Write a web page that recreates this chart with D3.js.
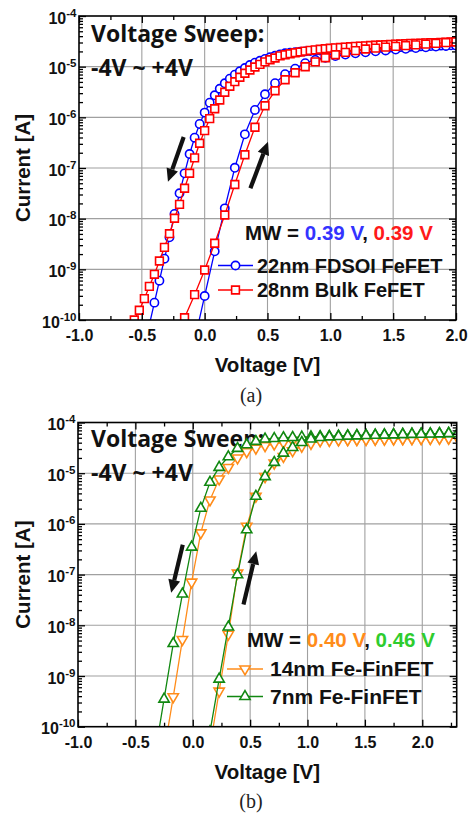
<!DOCTYPE html>
<html>
<head>
<meta charset="utf-8">
<script src="https://cdn.jsdelivr.net/npm/d3@7"></script>
<style>
  body { margin: 0; background: #fff; }
  svg { display: block; }
</style>
</head>
<body>
<svg id="fig" width="468" height="818"></svg>
<script>
// ---------- Panel (a): planar FeFETs, Id-Vg hysteresis ----------
const xTicksA = [-1.0, -0.5, 0.0, 0.5, 1.0, 1.5, 2.0];
const xMinorA = [-0.75, -0.25, 0.25, 0.75, 1.25, 1.75];

// 22nm FDSOI FeFET, sweep from +V down (left branch)
const fdsoiRevV = [-0.44,-0.40,-0.36,-0.32,-0.28,-0.24,-0.20,-0.16,-0.12,-0.08,-0.04,0.00,0.04,0.08,0.12,0.16,0.20,0.24,0.28,0.32,0.36,0.40,0.44,0.48,0.52,0.56,0.60,0.64,0.68,0.72,0.76,0.80,0.84,0.88,0.92,0.96,1.00,1.04,1.08,1.12,1.16,1.20,1.24,1.28,1.32,1.36,1.40,1.44,1.48,1.52,1.56,1.60,1.64,1.68,1.72,1.76,1.80,1.84,1.88,1.92,1.96,2.00];
const fdsoiRevI = [8.1e-11,2.20e-10,5.97e-10,1.62e-9,4.29e-9,1.24e-8,3.17e-8,7.85e-8,1.89e-7,3.96e-7,7.40e-7,1.24e-6,1.95e-6,2.72e-6,3.67e-6,4.70e-6,5.79e-6,6.95e-6,8.11e-6,9.42e-6,1.08e-5,1.20e-5,1.31e-5,1.42e-5,1.53e-5,1.64e-5,1.75e-5,1.84e-5,1.88e-5,1.93e-5,1.97e-5,2.00e-5,2.03e-5,2.06e-5,2.08e-5,2.11e-5,2.13e-5,2.16e-5,2.18e-5,2.20e-5,2.22e-5,2.25e-5,2.27e-5,2.29e-5,2.31e-5,2.33e-5,2.35e-5,2.37e-5,2.39e-5,2.41e-5,2.43e-5,2.45e-5,2.47e-5,2.49e-5,2.51e-5,2.53e-5,2.55e-5,2.57e-5,2.60e-5,2.62e-5,2.64e-5,2.66e-5];
// 22nm FDSOI FeFET, sweep from -V up (right branch)
const fdsoiFwdV = [-0.08,0.00,0.08,0.16,0.24,0.32,0.40,0.48,0.56,0.64,0.72,0.80,0.88,0.96,1.04,1.12,1.20,1.28,1.36,1.44,1.52,1.60,1.68,1.76,1.84,1.92,2.00];
const fdsoiFwdI = [4.0e-11,2.98e-10,2.27e-9,1.60e-8,1.01e-7,4.62e-7,1.40e-6,2.85e-6,4.72e-6,7.10e-6,9.12e-6,1.17e-5,1.36e-5,1.50e-5,1.62e-5,1.73e-5,1.83e-5,1.92e-5,2.01e-5,2.09e-5,2.17e-5,2.25e-5,2.33e-5,2.41e-5,2.49e-5,2.56e-5,2.62e-5];

// 28nm Bulk FeFET
const bulkRevV = [-0.60,-0.56,-0.52,-0.48,-0.44,-0.40,-0.36,-0.32,-0.28,-0.24,-0.20,-0.16,-0.12,-0.08,-0.04,0.00,0.04,0.08,0.12,0.16,0.20,0.24,0.28,0.32,0.36,0.40,0.44,0.48,0.52,0.56,0.60,0.64,0.68,0.72,0.76,0.80,0.84,0.88,0.92,0.96,1.00,1.04,1.08,1.12,1.16,1.20,1.24,1.28,1.32,1.36,1.40,1.44,1.48,1.52,1.56,1.60,1.64,1.68,1.72,1.76,1.80,1.84,1.88,1.92,1.96,2.00];
const bulkRevI = [6.3e-11,1.0e-10,1.56e-10,2.64e-10,4.62e-10,7.98e-10,1.46e-9,2.72e-9,5.05e-9,1.02e-8,1.92e-8,3.98e-8,7.87e-8,1.58e-7,3.08e-7,5.45e-7,9.40e-7,1.48e-6,2.20e-6,3.12e-6,4.10e-6,5.05e-6,6.17e-6,7.40e-6,8.59e-6,9.84e-6,1.11e-5,1.24e-5,1.37e-5,1.48e-5,1.63e-5,1.72e-5,1.80e-5,1.88e-5,1.95e-5,2.02e-5,2.09e-5,2.15e-5,2.21e-5,2.26e-5,2.31e-5,2.35e-5,2.39e-5,2.43e-5,2.47e-5,2.51e-5,2.55e-5,2.58e-5,2.62e-5,2.65e-5,2.68e-5,2.71e-5,2.74e-5,2.77e-5,2.80e-5,2.83e-5,2.86e-5,2.88e-5,2.91e-5,2.94e-5,2.96e-5,2.99e-5,3.02e-5,3.05e-5,3.08e-5,3.11e-5];
const bulkFwdV = [-0.24,-0.16,-0.08,0.00,0.08,0.16,0.24,0.32,0.40,0.48,0.56,0.64,0.72,0.80,0.88,0.96,1.04,1.12,1.20,1.28,1.36,1.44,1.52,1.60,1.68,1.76,1.84,1.92,2.00];
const bulkFwdI = [4.0e-11,1.11e-10,3.16e-10,9.70e-10,3.27e-9,1.18e-8,4.72e-8,1.83e-7,6.38e-7,1.69e-6,3.34e-6,5.51e-6,7.60e-6,9.98e-6,1.24e-5,1.50e-5,1.72e-5,1.92e-5,2.07e-5,2.23e-5,2.33e-5,2.43e-5,2.51e-5,2.60e-5,2.69e-5,2.79e-5,2.88e-5,2.99e-5,3.09e-5];

// ---------- Panel (b): Fe-FinFETs ----------
const xTicksB = [-1.0, -0.5, 0.0, 0.5, 1.0, 1.5, 2.0];
const xMinorB = [-0.75, -0.25, 0.25, 0.75, 1.25, 1.75, 2.25];

const fin14RevV = [-0.25,-0.17,-0.09,-0.01,0.07,0.15,0.23,0.31,0.39,0.47,0.55,0.63,0.71,0.79,0.87,0.95,1.03,1.11,1.19,1.27,1.35,1.43,1.51,1.59,1.67,1.75,1.83,1.91,1.99,2.07,2.15,2.23,2.31];
const fin14RevI = [3.2e-11,3.89e-10,5.24e-9,7.11e-8,6.67e-7,2.97e-6,7.69e-6,1.30e-5,2.00e-5,2.65e-5,3.13e-5,3.48e-5,3.76e-5,4.05e-5,4.37e-5,4.42e-5,4.46e-5,4.50e-5,4.54e-5,4.58e-5,4.61e-5,4.64e-5,4.67e-5,4.70e-5,4.73e-5,4.76e-5,4.79e-5,4.82e-5,4.85e-5,4.88e-5,4.91e-5,4.94e-5,4.97e-5];
const fin14FwdV = [0.15,0.23,0.31,0.39,0.47,0.55,0.63,0.71,0.79,0.87,0.95,1.03,1.11,1.19,1.27,1.35,1.43,1.51,1.59,1.67,1.75,1.83,1.91,1.99,2.07,2.15,2.23,2.31];
const fin14FwdI = [4.0e-11,5.04e-10,6.65e-9,1.07e-7,9.00e-7,3.50e-6,8.55e-6,1.58e-5,2.14e-5,2.77e-5,3.39e-5,3.86e-5,4.37e-5,4.45e-5,4.52e-5,4.57e-5,4.61e-5,4.65e-5,4.68e-5,4.71e-5,4.74e-5,4.77e-5,4.80e-5,4.83e-5,4.86e-5,4.89e-5,4.92e-5,4.95e-5];

const fin7RevV = [-0.33,-0.25,-0.17,-0.09,-0.01,0.07,0.15,0.23,0.31,0.39,0.47,0.55,0.63,0.71,0.79,0.87,0.95,1.03,1.11,1.19,1.27,1.35,1.43,1.51,1.59,1.67,1.75,1.83,1.91,1.99,2.07,2.15,2.23,2.31];
const fin7RevI = [2.8e-11,3.50e-10,4.37e-9,4.14e-8,3.48e-7,2.03e-6,6.61e-6,1.30e-5,2.11e-5,3.08e-5,3.64e-5,4.23e-5,4.71e-5,4.84e-5,5.01e-5,5.07e-5,5.14e-5,5.21e-5,5.28e-5,5.35e-5,5.42e-5,5.49e-5,5.55e-5,5.61e-5,5.67e-5,5.73e-5,5.79e-5,5.85e-5,5.90e-5,5.95e-5,6.00e-5,6.05e-5,6.10e-5,6.15e-5];
const fin7FwdV = [0.15,0.23,0.31,0.39,0.47,0.55,0.63,0.71,0.79,0.87,0.95,1.03,1.11,1.19,1.27,1.35,1.43,1.51,1.59,1.67,1.75,1.83,1.91,1.99,2.07,2.15,2.23,2.31];
const fin7FwdI = [7.9e-11,8.67e-10,9.27e-9,9.93e-8,7.64e-7,3.50e-6,8.55e-6,1.63e-5,2.49e-5,3.22e-5,4.04e-5,4.71e-5,5.07e-5,5.20e-5,5.30e-5,5.38e-5,5.45e-5,5.52e-5,5.58e-5,5.64e-5,5.70e-5,5.76e-5,5.82e-5,5.87e-5,5.92e-5,5.97e-5,6.02e-5,6.07e-5];

// Shared log current axis
const yDecades = [1e-10, 1e-9, 1e-8, 1e-7, 1e-6, 1e-5, 1e-4];
const yExponents = ['-10', '-9', '-8', '-7', '-6', '-5', '-4'];

// Sweep direction arrows: [V, I] tail -> head
const arrowsA = [[[-0.167, 4.09e-7], [-0.292, 5.37e-8]], [[0.364, 3.98e-8], [0.504, 3.31e-7]]];
const arrowsB = [[[-0.087, 3.89e-7], [-0.188, 4.37e-8]], [[0.442, 2.57e-8], [0.553, 2.88e-7]]];

// ---------- drawing ----------
const svg = d3.select('#fig');
const ARIAL = "'Liberation Sans', Arial, sans-serif";
const SWEEP_FONT = "'Open Sans', Lato, sans-serif";

function markerPath(kind) {
  if (kind === 'circle') return d3.symbol(d3.symbolCircle, 54)();
  if (kind === 'square') return d3.symbol(d3.symbolSquare, 60)();
  return d3.symbol(d3.symbolTriangle, 46)();
}

function drawPanel(cfg, idx) {
  const { x0, x1, y0, y1 } = cfg.box;
  const x = d3.scaleLinear().domain(cfg.xDomain).range([x0, x1]);
  const y = d3.scaleLog().domain([1e-10, 1e-4]).range([y1, y0]);
  const g = svg.append('g');

  const clipId = 'clip' + idx;
  g.append('clipPath').attr('id', clipId)
    .append('rect').attr('x', x0).attr('y', y0).attr('width', x1 - x0).attr('height', y1 - y0);

  // grid
  const grid = g.append('g').attr('stroke', '#a0a0a0').attr('stroke-width', 1.1);
  cfg.xTicks.filter(v => v > cfg.xDomain[0] && v < cfg.xDomain[1]).forEach(v => {
    grid.append('line').attr('x1', x(v)).attr('x2', x(v)).attr('y1', y0).attr('y2', y1);
  });
  yDecades.slice(1, -1).forEach(v => {
    grid.append('line').attr('x1', x0).attr('x2', x1).attr('y1', y(v)).attr('y2', y(v));
  });

  // annotation text
  g.append('text').attr('x', cfg.sweepPos[0]).attr('y', cfg.sweepPos[1])
    .attr('font-family', SWEEP_FONT).attr('font-weight', 700).attr('font-size', 23)
    .attr('fill', '#111').text('Voltage Sweep:');
  g.append('text').attr('x', cfg.sweepPos[0]).attr('y', cfg.sweepPos[1] + 33.5)
    .attr('font-family', SWEEP_FONT).attr('font-weight', 700).attr('font-size', 23)
    .attr('fill', '#111').text('-4V ~ +4V');

  // curves
  const plot = g.append('g').attr('clip-path', `url(#${clipId})`);
  const line = d3.line().x(d => x(d[0])).y(d => y(d[1]));
  cfg.series.forEach(s => {
    [[s.revV, s.revI], [s.fwdV, s.fwdI]].forEach(([vs, is]) => {
      const pts = vs.map((v, i) => [v, is[i]]);
      plot.append('path').datum(pts).attr('d', line)
        .attr('fill', 'none').attr('stroke', s.color).attr('stroke-width', 1.3);
      plot.append('g').selectAll('path').data(pts).join('path')
        .attr('d', markerPath(s.marker))
        .attr('transform', d => `translate(${x(d[0])},${y(d[1])})${s.flip ? ' rotate(180)' : ''}`)
        .attr('fill', '#fff').attr('stroke', s.color).attr('stroke-width', 1.6);
    });
  });

  // arrows
  cfg.arrows.forEach(([a, b]) => {
    const ax = x(a[0]), ay = y(a[1]), bx = x(b[0]), by = y(b[1]);
    const ang = Math.atan2(by - ay, bx - ax);
    const hl = 13, hw = 6;
    const sx = bx - hl * Math.cos(ang), sy = by - hl * Math.sin(ang);
    g.append('line').attr('x1', ax).attr('y1', ay).attr('x2', sx).attr('y2', sy)
      .attr('stroke', '#111').attr('stroke-width', 4.2);
    const px = -Math.sin(ang), py = Math.cos(ang);
    g.append('path')
      .attr('d', `M${bx},${by}L${sx + hw * px},${sy + hw * py}L${sx - hw * px},${sy - hw * py}Z`)
      .attr('fill', '#111');
  });

  // axes: inward ticks on all four sides
  const styleAxis = sel => {
    sel.select('.domain').remove();
    sel.selectAll('line').attr('stroke', '#000').attr('stroke-width', 1.3);
  };
  const fmt = v => v.toFixed(1);
  const bottom = g.append('g').attr('transform', `translate(0,${y1})`)
    .call(d3.axisBottom(x).tickValues(cfg.xTicks).tickSizeInner(-7).tickSizeOuter(0).tickPadding(9.5).tickFormat(fmt))
    .call(styleAxis);
  bottom.selectAll('text').attr('font-family', ARIAL).attr('font-weight', 700)
    .attr('font-size', 16).attr('fill', '#111');
  g.append('g').attr('transform', `translate(0,${y1})`)
    .call(d3.axisBottom(x).tickValues(cfg.xMinor).tickSizeInner(-4).tickSizeOuter(0).tickFormat(''))
    .call(styleAxis);
  g.append('g').attr('transform', `translate(0,${y0})`)
    .call(d3.axisTop(x).tickValues(cfg.xTicks).tickSizeInner(-7).tickSizeOuter(0).tickFormat(''))
    .call(styleAxis);
  g.append('g').attr('transform', `translate(0,${y0})`)
    .call(d3.axisTop(x).tickValues(cfg.xMinor).tickSizeInner(-4).tickSizeOuter(0).tickFormat(''))
    .call(styleAxis);

  const minorY = y.ticks().filter(v => !yDecades.some(d => Math.abs(d - v) / d < 1e-6));
  [[d3.axisLeft, x0], [d3.axisRight, x1]].forEach(([axisFn, xp]) => {
    g.append('g').attr('transform', `translate(${xp},0)`)
      .call(axisFn(y).tickValues(yDecades).tickSizeInner(-7).tickSizeOuter(0).tickFormat(''))
      .call(styleAxis);
    g.append('g').attr('transform', `translate(${xp},0)`)
      .call(axisFn(y).tickValues(minorY).tickSizeInner(-4).tickSizeOuter(0).tickFormat(''))
      .call(styleAxis);
  });

  // y tick labels 10^n
  yDecades.forEach((v, i) => {
    const t = g.append('text').attr('x', x0 - 2.5).attr('y', y(v) + 7.5)
      .attr('text-anchor', 'end').attr('font-family', ARIAL).attr('font-weight', 700)
      .attr('font-size', 16).attr('fill', '#111');
    t.append('tspan').text('10');
    t.append('tspan').attr('dy', -7).attr('font-size', 11.5).text(yExponents[i]);
  });

  // frame
  g.append('rect').attr('x', x0).attr('y', y0).attr('width', x1 - x0).attr('height', y1 - y0)
    .attr('fill', 'none').attr('stroke', '#000').attr('stroke-width', 1.6);

  // axis titles
  g.append('text').attr('x', (x0 + x1) / 2).attr('y', y1 + 52)
    .attr('text-anchor', 'middle').attr('font-family', ARIAL).attr('font-weight', 700)
    .attr('font-size', 20.5).attr('fill', '#111').text('Voltage [V]');
  g.append('text').attr('transform', `translate(30,${(y0 + y1) / 2}) rotate(-90)`)
    .attr('text-anchor', 'middle').attr('font-family', ARIAL).attr('font-weight', 700)
    .attr('font-size', 20.5).attr('fill', '#111').text('Current [A]');

  // memory-window line
  const mw = g.append('text').attr('x', cfg.mwPos[0]).attr('y', cfg.mwPos[1])
    .attr('font-family', ARIAL).attr('font-weight', 700).attr('font-size', 20.5).attr('fill', '#111');
  mw.append('tspan').text('MW = ');
  mw.append('tspan').attr('fill', cfg.series[0].mwColor).text(cfg.series[0].mw);
  mw.append('tspan').text(', ');
  mw.append('tspan').attr('fill', cfg.series[1].mwColor).text(cfg.series[1].mw);

  // legend
  cfg.series.forEach((s, i) => {
    const ly = cfg.legendY[i];
    const [la, lb] = cfg.legendLine;
    g.append('line').attr('x1', la).attr('x2', lb).attr('y1', ly).attr('y2', ly)
      .attr('stroke', s.color).attr('stroke-width', 1.3);
    g.append('path').attr('d', markerPath(s.marker))
      .attr('transform', `translate(${(la + lb) / 2},${ly})${s.flip ? ' rotate(180)' : ''}`)
      .attr('fill', '#fff').attr('stroke', s.color).attr('stroke-width', 1.6);
    g.append('text').attr('x', cfg.legendTextX).attr('y', ly + 7)
      .attr('font-family', ARIAL).attr('font-weight', 700).attr('font-size', cfg.legendFont)
      .attr('fill', '#111').text(s.name);
  });

  // panel caption
  svg.append('text').attr('x', cfg.caption[1]).attr('y', cfg.caption[2])
    .attr('text-anchor', 'middle').attr('font-family', "'Liberation Serif', 'Times New Roman', serif")
    .attr('font-size', 20).attr('fill', '#222').text(cfg.caption[0]);
}

const panels = [
  {
    box: { x0: 79, x1: 456, y0: 16, y1: 320 },
    xDomain: [-1.0, 2.0], xTicks: xTicksA, xMinor: xMinorA,
    series: [
      { name: '22nm FDSOI FeFET', color: '#0000ff', marker: 'circle', revV: fdsoiRevV, revI: fdsoiRevI, fwdV: fdsoiFwdV, fwdI: fdsoiFwdI, mw: '0.39 V', mwColor: '#3333ff' },
      { name: '28nm Bulk FeFET', color: '#ff0000', marker: 'square', revV: bulkRevV, revI: bulkRevI, fwdV: bulkFwdV, fwdI: bulkFwdI, mw: '0.39 V', mwColor: '#ff1a1a' }
    ],
    arrows: arrowsA,
    sweepPos: [91, 42],
    mwPos: [245, 240],
    legendY: [265.5, 290],
    legendLine: [218, 253],
    legendTextX: 257,
    legendFont: 20,
    caption: ['(a)', 251, 402]
  },
  {
    box: { x0: 78, x1: 456.7, y0: 422.5, y1: 726.7 },
    xDomain: [-1.0, 2.3], xTicks: xTicksB, xMinor: xMinorB,
    series: [
      { name: '14nm Fe-FinFET', color: '#ff8c1a', marker: 'triangle', flip: true, revV: fin14RevV, revI: fin14RevI, fwdV: fin14FwdV, fwdI: fin14FwdI, mw: '0.40 V', mwColor: '#ff8c1a' },
      { name: '7nm Fe-FinFET', color: '#118811', marker: 'triangle', revV: fin7RevV, revI: fin7RevI, fwdV: fin7FwdV, fwdI: fin7FwdI, mw: '0.46 V', mwColor: '#2ecc2e' }
    ],
    arrows: arrowsB,
    sweepPos: [91, 447],
    mwPos: [247, 646.5],
    legendY: [669, 696.5],
    legendLine: [227, 263],
    legendTextX: 270,
    legendFont: 21,
    caption: ['(b)', 251, 808]
  }
];

panels.forEach(drawPanel);
</script>
</body>
</html>
